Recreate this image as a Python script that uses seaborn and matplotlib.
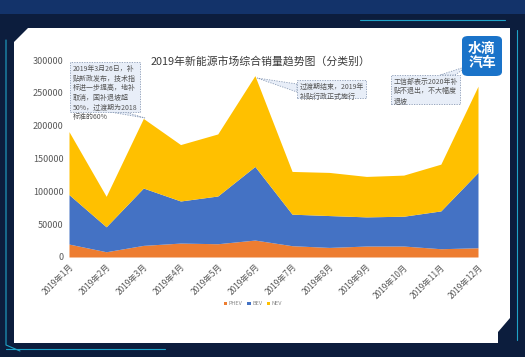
import numpy as np
import pandas as pd
import matplotlib
matplotlib.use("Agg")
import matplotlib.pyplot as plt
from matplotlib.patches import Polygon, FancyBboxPatch
import seaborn as sns

sns.set_theme(style="white")
plt.rcParams['font.family'] = ['Noto Sans CJK SC', 'DejaVu Sans']

months = ["2019年1月", "2019年2月", "2019年3月", "2019年4月", "2019年5月", "2019年6月",
          "2019年7月", "2019年8月", "2019年9月", "2019年10月", "2019年11月", "2019年12月"]
phev = [19700, 8000, 17700, 21200, 20200, 25800, 17200, 14600, 16700, 16700, 12600, 14100]
bev = [75300, 38000, 87300, 64100, 72700, 112100, 48000, 48500, 44400, 45400, 57600, 114700]
nev = [95900, 46400, 106000, 85900, 94500, 138300, 65100, 65700, 61600, 62600, 71200, 131300]
series = ["PHEV", "BEV", "NEV"]
colors = ["#ED7D31", "#4472C4", "#FFC000"]
yticks = [0, 50000, 100000, 150000, 200000, 250000, 300000]

df = pd.DataFrame({"month": months, "PHEV": phev, "BEV": bev, "NEV": nev})

fig = plt.figure(figsize=(5.25, 3.57), dpi=100)
fig.patch.set_facecolor("#0c1d3d")

W, H = 525, 357
def fx(x): return x / W
def fy(y): return 1 - y / H

# lighter header band
fig.patches.append(Polygon([(0, 1), (1, 1), (1, fy(14)), (0, fy(14))], closed=True,
                           transform=fig.transFigure, facecolor="#13336a", edgecolor="none", zorder=0))
# white inner panel with clipped corners
panel = Polygon([(fx(28), fy(28)), (fx(510), fy(28)), (fx(510), fy(318)), (fx(498), fy(332)),
                 (fx(498), fy(343)), (fx(14), fy(343)), (fx(14), fy(42))],
                closed=True, transform=fig.transFigure, facecolor="white", edgecolor="none", zorder=1)
fig.patches.append(panel)
# cyan frame lines
fig.add_artist(plt.Line2D([fx(6), fx(6), fx(20)], [fy(40), fy(345), fy(351)],
                          transform=fig.transFigure, color="#1fa3c8", lw=0.8))
fig.add_artist(plt.Line2D([fx(360), fx(505)], [fy(20), fy(20)],
                          transform=fig.transFigure, color="#1fa3c8", lw=0.8))
fig.add_artist(plt.Line2D([fx(517), fx(517)], [fy(30), fy(340)],
                          transform=fig.transFigure, color="#1fa3c8", lw=0.8))
fig.add_artist(plt.Line2D([fx(6), fx(165)], [fy(349), fy(349)],
                          transform=fig.transFigure, color="#1fa3c8", lw=0.8))

ax = fig.add_axes([fx(69), fy(257), fx(478) - fx(69), fy(60) - fy(257)])
ax.set_zorder(2)
x = np.arange(len(months))
ax.stackplot(x, df["PHEV"], df["BEV"], df["NEV"], colors=colors, labels=series, linewidth=0)
ax.set_xlim(0, len(months) - 1)
ax.set_ylim(0, 300000)
ax.set_yticks(yticks)
ax.set_yticklabels([str(v) for v in yticks], fontsize=6.5, color="#595959")
ax.set_xticks(x)
ax.set_xticklabels(months, rotation=45, ha="right", rotation_mode="anchor",
                   fontsize=6, color="#595959")
ax.tick_params(axis="both", length=0, pad=4)
sns.despine(ax=ax, left=True, bottom=True)
ax.set_facecolor("none")

ax.legend(loc="upper center", bbox_to_anchor=(0.45, -0.2), ncol=3, frameon=False,
          fontsize=4, handlelength=0.6, handleheight=0.6, columnspacing=0.8,
          handletextpad=0.3, labelcolor="#888888")

fig.text(fx(260), fy(62), "2019年新能源市场综合销量趋势图（分类别）", ha="center", va="center",
         fontsize=7.8, color="#3a3a3a", fontweight="medium", zorder=6)

def note(x0, y0, w, h, text, tail):
    box = FancyBboxPatch((fx(x0), fy(y0 + h)), fx(w), h / H, boxstyle="square,pad=0",
                         transform=fig.transFigure, facecolor="#e8eef8", edgecolor="#8a9bb5",
                         lw=0.6, ls=(0, (1.5, 1.5)), zorder=5)
    fig.patches.append(box)
    tri = Polygon([(fx(a), fy(b)) for a, b in tail], closed=True, transform=fig.transFigure,
                  facecolor="#e8eef8", edgecolor="#8a9bb5", lw=0.6, ls=(0, (1.5, 1.5)), zorder=4)
    fig.patches.append(tri)
    fig.text(fx(x0 + 3), fy(y0 + 3), text, ha="left", va="top", fontsize=5, color="#555555",
             linespacing=1.25, zorder=6)

note(70, 62, 70, 50, "2019年3月26日，补\n贴新政发布，技术指\n标进一步提高，地补\n取消，国补退坡超\n50%，过渡期为2018\n标准的60%",
     [(110, 112), (125, 112), (145, 118)])
note(297, 80, 69, 18, "过渡期结束，2019年\n补贴行政正式施行",
     [(297, 84), (297, 92), (257, 78)])
note(391, 75, 69, 29, "工信部表示2020年补\n贴不退出，不大幅度\n退坡",
     [(440, 75), (455, 75), (468, 66)])

logo = FancyBboxPatch((fx(462), fy(76)), fx(40), 40 / H, boxstyle="round,pad=0,rounding_size=0.012",
                      transform=fig.transFigure, facecolor="#1a73c9", edgecolor="none", zorder=7)
fig.patches.append(logo)
fig.text(fx(482), fy(56), "水滴\n汽车", ha="center", va="center", fontsize=10, color="white",
         fontweight="bold", linespacing=0.95, zorder=8)

fig.savefig("out.png", dpi=100, facecolor=fig.get_facecolor())
